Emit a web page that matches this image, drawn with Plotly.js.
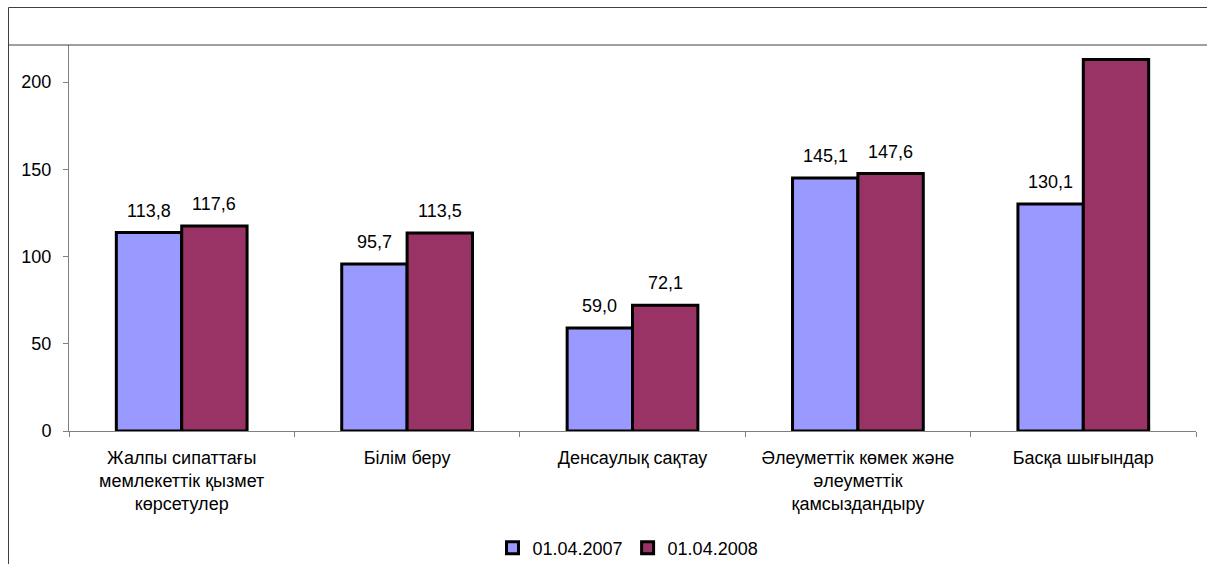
<!DOCTYPE html>
<html>
<head>
<meta charset="utf-8">
<script src="https://cdn.plot.ly/plotly-3.0.1.min.js"></script>
<style>html,body{margin:0;padding:0;background:#fff;overflow:hidden;}#chart{width:1207px;height:564px;}</style>
</head>
<body>
<div id="chart"></div>
<script>
const categories = [
  "Жалпы сипаттағы<br>мемлекеттік қызмет<br>көрсетулер",
  "Білім беру",
  "Денсаулық сақтау",
  "Әлеуметтік көмек және<br>әлеуметтік<br>қамсыздандыру",
  "Басқа шығындар"
];
const series2007 = [113.8, 95.7, 59.0, 145.1, 130.1];
const series2008 = [117.6, 113.5, 72.1, 147.6, 213.0];
const labels2007 = ["113,8", "95,7", "59,0", "145,1", "130,1"];
const labels2008 = ["117,6", "113,5", "72,1", "147,6", ""];
const seriesNames = ["01.04.2007", "01.04.2008"];
const yTicks = [0, 50, 100, 150, 200];

const font = {family: "Arial, 'Liberation Sans', sans-serif", size: 18, color: "#000"};
const plotL = 69, plotR = 1196, plotT = 45, plotB = 431, W = 1207, H = 564;
const pw = plotR - plotL, ph = plotB - plotT;
const px = v => (v - plotL) / pw;
const py = v => (plotB - v) / ph;
const bargap = 0.42;
const catW = pw / categories.length;
const half = catW * (1 - bargap) / 4;

const traces = [
  {type: "bar", name: seriesNames[0], x: categories, y: series2007,
   marker: {color: "#9999FF", line: {color: "#000", width: 3}}},
  {type: "bar", name: seriesNames[1], x: categories, y: series2008,
   marker: {color: "#993366", line: {color: "#000", width: 3}}}
];

const annotations = [];
[[series2007, labels2007, -half], [series2008, labels2008, half]].forEach(([vals, labs, dx]) => {
  vals.forEach((v, i) => {
    if (!labs[i]) return;
    annotations.push({x: i, y: v, xref: "x", yref: "y", text: labs[i], showarrow: false,
      xshift: dx, yshift: 22, yanchor: "middle", xanchor: "center", font: font});
  });
});

const framePath = "M " + px(8.5) + "," + py(566) + " L " + px(8.5) + "," + py(7.5) +
                  " L " + px(1209) + "," + py(7.5);

const layout = {
  width: W, height: H,
  margin: {l: plotL, r: W - plotR, t: plotT, b: H - plotB},
  paper_bgcolor: "#fff", plot_bgcolor: "#fff",
  font: font,
  barmode: "group", bargap: bargap, bargroupgap: 0,
  showlegend: true,
  legend: {orientation: "h", xref: "container", yref: "container",
           x: 628 / W, xanchor: "center", y: (H - 548) / H, yanchor: "middle",
           font: font, itemwidth: 30, traceorder: "normal", tracegroupgap: 0},
  xaxis: {type: "category", showgrid: false, zeroline: false, showline: true,
          linecolor: "#808080", linewidth: 1, ticks: "outside", ticklen: 5,
          tickcolor: "#808080", tickson: "boundaries", tickfont: font,
          ticklabelstandoff: 10, automargin: false},
  yaxis: {range: [0, 221.3], showgrid: false, zeroline: false, showline: true,
          linecolor: "#808080", linewidth: 1, ticks: "outside", ticklen: 5,
          tickcolor: "#808080", tickvals: yTicks, tickfont: font,
          ticklabelstandoff: 8, automargin: false},
  annotations: annotations,
  shapes: [
    {type: "path", xref: "paper", yref: "paper", path: framePath,
     line: {color: "#404040", width: 1}, fillcolor: "rgba(0,0,0,0)"},
    {type: "line", xref: "paper", yref: "paper", x0: px(8), x1: px(1207), y0: py(45), y1: py(45),
     line: {color: "#404040", width: 1}}
  ]
};

Plotly.newPlot("chart", traces, layout, {displayModeBar: false, staticPlot: true});
</script>
</body>
</html>
